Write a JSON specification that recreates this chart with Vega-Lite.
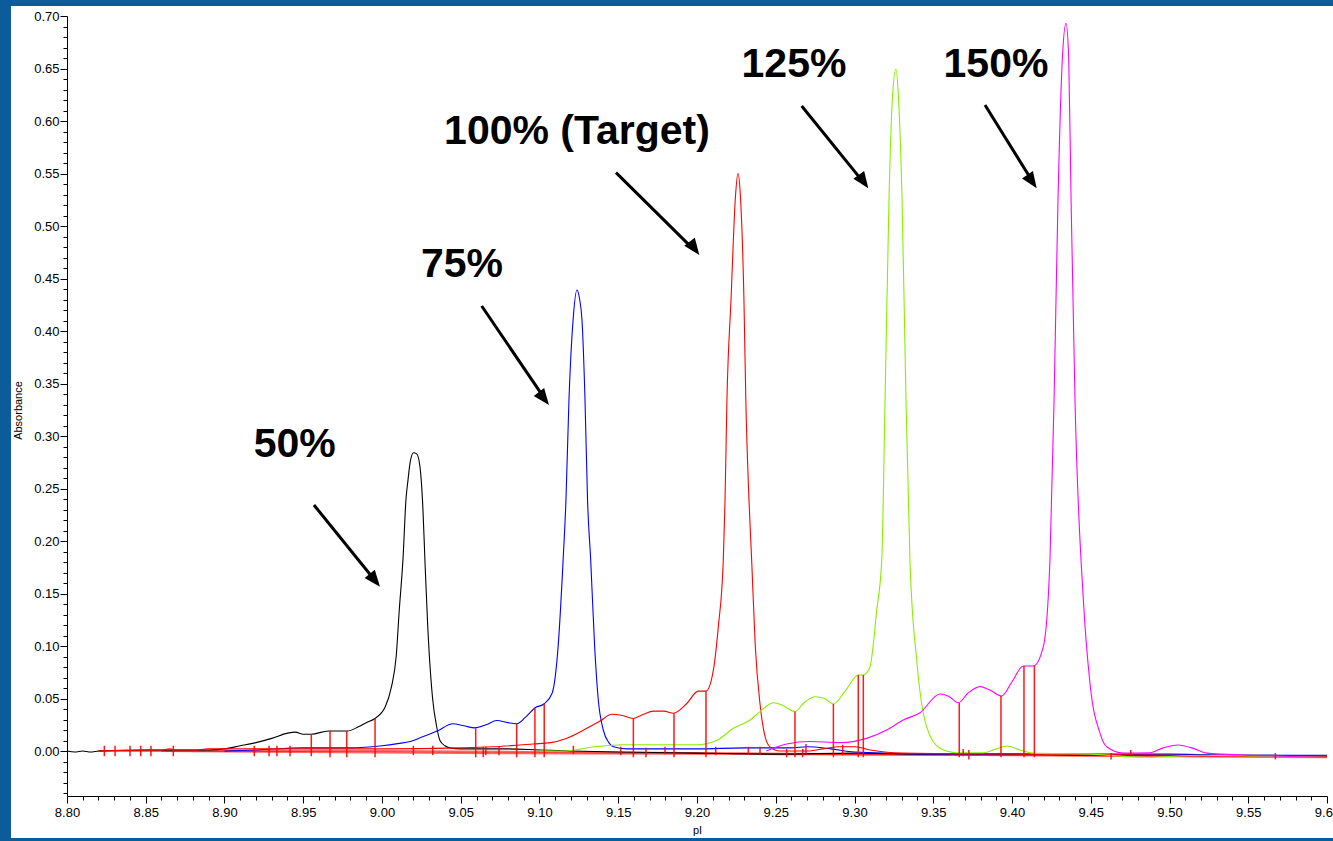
{
  "$schema": "https://vega.github.io/schema/vega-lite/v6.json",
  "width": 1260,
  "height": 780,
  "autosize": "none",
  "padding": {"left": 67, "top": 16, "right": 6, "bottom": 45},
  "background": "#0c5c9c",
  "config": {
    "view": {"stroke": null},
    "font": "Liberation Sans"
  },
  "resolve": {"axis": {"x": "independent", "y": "independent"}},
  "datasets": {
    "curves": [
      {"s": "50%", "x": 8.800, "y": 0.000}, {"s": "50%", "x": 8.805, "y": -0.001}, {"s": "50%", "x": 8.810, "y": 0.000}, {"s": "50%", "x": 8.815, "y": -0.001}, {"s": "50%", "x": 8.820, "y": 0.000}, {"s": "50%", "x": 8.850, "y": 0.001}, {"s": "50%", "x": 8.870, "y": 0.001}, {"s": "50%", "x": 8.890, "y": 0.001}, {"s": "50%", "x": 8.900, "y": 0.002}, {"s": "50%", "x": 8.910, "y": 0.005}, {"s": "50%", "x": 8.920, "y": 0.008}, {"s": "50%", "x": 8.930, "y": 0.012}, {"s": "50%", "x": 8.940, "y": 0.017}, {"s": "50%", "x": 8.945, "y": 0.018}, {"s": "50%", "x": 8.950, "y": 0.016}, {"s": "50%", "x": 8.955, "y": 0.016}, {"s": "50%", "x": 8.966, "y": 0.019}, {"s": "50%", "x": 8.978, "y": 0.019}, {"s": "50%", "x": 8.985, "y": 0.023}, {"s": "50%", "x": 8.990, "y": 0.027}, {"s": "50%", "x": 8.9956, "y": 0.031}, {"s": "50%", "x": 9.000, "y": 0.037}, {"s": "50%", "x": 9.002, "y": 0.042}, {"s": "50%", "x": 9.006, "y": 0.061}, {"s": "50%", "x": 9.009, "y": 0.090}, {"s": "50%", "x": 9.011, "y": 0.135}, {"s": "50%", "x": 9.0133, "y": 0.182}, {"s": "50%", "x": 9.0152, "y": 0.239}, {"s": "50%", "x": 9.0165, "y": 0.258}, {"s": "50%", "x": 9.018, "y": 0.276}, {"s": "50%", "x": 9.020, "y": 0.284}, {"s": "50%", "x": 9.022, "y": 0.283}, {"s": "50%", "x": 9.024, "y": 0.272}, {"s": "50%", "x": 9.026, "y": 0.230}, {"s": "50%", "x": 9.0273, "y": 0.180}, {"s": "50%", "x": 9.029, "y": 0.120}, {"s": "50%", "x": 9.0322, "y": 0.049}, {"s": "50%", "x": 9.0345, "y": 0.025}, {"s": "50%", "x": 9.0368, "y": 0.010}, {"s": "50%", "x": 9.040, "y": 0.005}, {"s": "50%", "x": 9.043, "y": 0.003}, {"s": "50%", "x": 9.050, "y": 0.002}, {"s": "50%", "x": 9.080, "y": 0.002}, {"s": "50%", "x": 9.100, "y": 0.001}, {"s": "50%", "x": 9.120, "y": 0.000}, {"s": "50%", "x": 9.150, "y": -0.001}, {"s": "50%", "x": 9.200, "y": -0.002}, {"s": "50%", "x": 9.250, "y": -0.003}, {"s": "50%", "x": 9.300, "y": -0.002}, {"s": "50%", "x": 9.350, "y": -0.003}, {"s": "50%", "x": 9.400, "y": -0.003}, {"s": "50%", "x": 9.450, "y": -0.004}, {"s": "50%", "x": 9.500, "y": -0.004}, {"s": "50%", "x": 9.550, "y": -0.004}, {"s": "50%", "x": 9.600, "y": -0.005},

      {"s": "75%", "x": 8.900, "y": 0.000}, {"s": "75%", "x": 8.920, "y": 0.001}, {"s": "75%", "x": 8.950, "y": 0.003}, {"s": "75%", "x": 8.980, "y": 0.003}, {"s": "75%", "x": 9.000, "y": 0.005}, {"s": "75%", "x": 9.010, "y": 0.007}, {"s": "75%", "x": 9.018, "y": 0.009}, {"s": "75%", "x": 9.025, "y": 0.013}, {"s": "75%", "x": 9.035, "y": 0.019}, {"s": "75%", "x": 9.045, "y": 0.026}, {"s": "75%", "x": 9.052, "y": 0.024}, {"s": "75%", "x": 9.059, "y": 0.022}, {"s": "75%", "x": 9.066, "y": 0.025}, {"s": "75%", "x": 9.073, "y": 0.029}, {"s": "75%", "x": 9.080, "y": 0.027}, {"s": "75%", "x": 9.0855, "y": 0.026}, {"s": "75%", "x": 9.091, "y": 0.032}, {"s": "75%", "x": 9.097, "y": 0.041}, {"s": "75%", "x": 9.103, "y": 0.045}, {"s": "75%", "x": 9.108, "y": 0.055}, {"s": "75%", "x": 9.112, "y": 0.103}, {"s": "75%", "x": 9.115, "y": 0.182}, {"s": "75%", "x": 9.1168, "y": 0.239}, {"s": "75%", "x": 9.1187, "y": 0.334}, {"s": "75%", "x": 9.1213, "y": 0.410}, {"s": "75%", "x": 9.1238, "y": 0.439}, {"s": "75%", "x": 9.1255, "y": 0.430}, {"s": "75%", "x": 9.127, "y": 0.410}, {"s": "75%", "x": 9.1289, "y": 0.334}, {"s": "75%", "x": 9.1305, "y": 0.239}, {"s": "75%", "x": 9.1325, "y": 0.182}, {"s": "75%", "x": 9.135, "y": 0.100}, {"s": "75%", "x": 9.1373, "y": 0.049}, {"s": "75%", "x": 9.1405, "y": 0.020}, {"s": "75%", "x": 9.144, "y": 0.008}, {"s": "75%", "x": 9.147, "y": 0.004}, {"s": "75%", "x": 9.155, "y": 0.002}, {"s": "75%", "x": 9.200, "y": 0.002}, {"s": "75%", "x": 9.230, "y": 0.003}, {"s": "75%", "x": 9.260, "y": 0.003}, {"s": "75%", "x": 9.270, "y": 0.004}, {"s": "75%", "x": 9.285, "y": 0.002}, {"s": "75%", "x": 9.300, "y": -0.001}, {"s": "75%", "x": 9.350, "y": -0.003}, {"s": "75%", "x": 9.450, "y": -0.003}, {"s": "75%", "x": 9.500, "y": -0.003}, {"s": "75%", "x": 9.550, "y": -0.004}, {"s": "75%", "x": 9.600, "y": -0.004},

      {"s": "100%", "x": 8.820, "y": 0.000}, {"s": "100%", "x": 8.850, "y": 0.001}, {"s": "100%", "x": 8.860, "y": 0.001}, {"s": "100%", "x": 8.865, "y": 0.002}, {"s": "100%", "x": 8.870, "y": 0.001}, {"s": "100%", "x": 8.880, "y": 0.001}, {"s": "100%", "x": 8.890, "y": 0.002}, {"s": "100%", "x": 8.950, "y": 0.002}, {"s": "100%", "x": 9.000, "y": 0.002}, {"s": "100%", "x": 9.050, "y": 0.003}, {"s": "100%", "x": 9.070, "y": 0.004}, {"s": "100%", "x": 9.096, "y": 0.0067}, {"s": "100%", "x": 9.107, "y": 0.008}, {"s": "100%", "x": 9.117, "y": 0.012}, {"s": "100%", "x": 9.128, "y": 0.020}, {"s": "100%", "x": 9.138, "y": 0.028}, {"s": "100%", "x": 9.146, "y": 0.035}, {"s": "100%", "x": 9.152, "y": 0.034}, {"s": "100%", "x": 9.1596, "y": 0.031}, {"s": "100%", "x": 9.166, "y": 0.035}, {"s": "100%", "x": 9.1723, "y": 0.038}, {"s": "100%", "x": 9.179, "y": 0.038}, {"s": "100%", "x": 9.185, "y": 0.036}, {"s": "100%", "x": 9.1934, "y": 0.045}, {"s": "100%", "x": 9.2008, "y": 0.057}, {"s": "100%", "x": 9.2057, "y": 0.057}, {"s": "100%", "x": 9.2104, "y": 0.077}, {"s": "100%", "x": 9.2135, "y": 0.118}, {"s": "100%", "x": 9.2167, "y": 0.182}, {"s": "100%", "x": 9.2178, "y": 0.239}, {"s": "100%", "x": 9.219, "y": 0.334}, {"s": "100%", "x": 9.2216, "y": 0.430}, {"s": "100%", "x": 9.2245, "y": 0.530}, {"s": "100%", "x": 9.226, "y": 0.550}, {"s": "100%", "x": 9.2275, "y": 0.530}, {"s": "100%", "x": 9.2298, "y": 0.430}, {"s": "100%", "x": 9.231, "y": 0.334}, {"s": "100%", "x": 9.233, "y": 0.239}, {"s": "100%", "x": 9.2347, "y": 0.182}, {"s": "100%", "x": 9.237, "y": 0.100}, {"s": "100%", "x": 9.240, "y": 0.045}, {"s": "100%", "x": 9.243, "y": 0.015}, {"s": "100%", "x": 9.2463, "y": 0.004}, {"s": "100%", "x": 9.2527, "y": 0.000}, {"s": "100%", "x": 9.270, "y": 0.000}, {"s": "100%", "x": 9.280, "y": 0.002}, {"s": "100%", "x": 9.290, "y": 0.004}, {"s": "100%", "x": 9.300, "y": 0.004}, {"s": "100%", "x": 9.310, "y": 0.001}, {"s": "100%", "x": 9.330, "y": -0.002}, {"s": "100%", "x": 9.400, "y": -0.003}, {"s": "100%", "x": 9.500, "y": -0.004}, {"s": "100%", "x": 9.600, "y": -0.005},

      {"s": "125%", "x": 9.100, "y": 0.000}, {"s": "125%", "x": 9.115, "y": 0.000}, {"s": "125%", "x": 9.135, "y": 0.004}, {"s": "125%", "x": 9.153, "y": 0.006}, {"s": "125%", "x": 9.200, "y": 0.006}, {"s": "125%", "x": 9.2125, "y": 0.010}, {"s": "125%", "x": 9.2231, "y": 0.0216}, {"s": "125%", "x": 9.2337, "y": 0.0295}, {"s": "125%", "x": 9.240, "y": 0.0375}, {"s": "125%", "x": 9.2485, "y": 0.046}, {"s": "125%", "x": 9.255, "y": 0.043}, {"s": "125%", "x": 9.2622, "y": 0.0375}, {"s": "125%", "x": 9.268, "y": 0.046}, {"s": "125%", "x": 9.2749, "y": 0.0517}, {"s": "125%", "x": 9.281, "y": 0.050}, {"s": "125%", "x": 9.2866, "y": 0.0448}, {"s": "125%", "x": 9.2945, "y": 0.058}, {"s": "125%", "x": 9.3024, "y": 0.0724}, {"s": "125%", "x": 9.3056, "y": 0.0724}, {"s": "125%", "x": 9.3098, "y": 0.080}, {"s": "125%", "x": 9.3141, "y": 0.134}, {"s": "125%", "x": 9.3173, "y": 0.182}, {"s": "125%", "x": 9.3194, "y": 0.334}, {"s": "125%", "x": 9.3219, "y": 0.525}, {"s": "125%", "x": 9.324, "y": 0.620}, {"s": "125%", "x": 9.3263, "y": 0.6495}, {"s": "125%", "x": 9.328, "y": 0.620}, {"s": "125%", "x": 9.3302, "y": 0.525}, {"s": "125%", "x": 9.3327, "y": 0.334}, {"s": "125%", "x": 9.3352, "y": 0.182}, {"s": "125%", "x": 9.3395, "y": 0.0867}, {"s": "125%", "x": 9.3458, "y": 0.023}, {"s": "125%", "x": 9.3543, "y": 0.0026}, {"s": "125%", "x": 9.3649, "y": -0.0016}, {"s": "125%", "x": 9.3818, "y": -0.0016}, {"s": "125%", "x": 9.390, "y": 0.002}, {"s": "125%", "x": 9.3966, "y": 0.0048}, {"s": "125%", "x": 9.405, "y": 0.001}, {"s": "125%", "x": 9.4133, "y": -0.002}, {"s": "125%", "x": 9.450, "y": -0.003}, {"s": "125%", "x": 9.4855, "y": -0.006}, {"s": "125%", "x": 9.520, "y": -0.004}, {"s": "125%", "x": 9.560, "y": -0.005}, {"s": "125%", "x": 9.600, "y": -0.006},

      {"s": "150%", "x": 9.244, "y": 0.000}, {"s": "150%", "x": 9.2569, "y": 0.0067}, {"s": "150%", "x": 9.2717, "y": 0.009}, {"s": "150%", "x": 9.2908, "y": 0.008}, {"s": "150%", "x": 9.3077, "y": 0.012}, {"s": "150%", "x": 9.3204, "y": 0.020}, {"s": "150%", "x": 9.331, "y": 0.0295}, {"s": "150%", "x": 9.3416, "y": 0.0365}, {"s": "150%", "x": 9.3543, "y": 0.0543}, {"s": "150%", "x": 9.360, "y": 0.052}, {"s": "150%", "x": 9.3659, "y": 0.046}, {"s": "150%", "x": 9.372, "y": 0.055}, {"s": "150%", "x": 9.3797, "y": 0.0613}, {"s": "150%", "x": 9.386, "y": 0.058}, {"s": "150%", "x": 9.3934, "y": 0.0524}, {"s": "150%", "x": 9.400, "y": 0.066}, {"s": "150%", "x": 9.4072, "y": 0.081}, {"s": "150%", "x": 9.4135, "y": 0.081}, {"s": "150%", "x": 9.4199, "y": 0.0994}, {"s": "150%", "x": 9.4241, "y": 0.182}, {"s": "150%", "x": 9.4267, "y": 0.334}, {"s": "150%", "x": 9.4292, "y": 0.525}, {"s": "150%", "x": 9.432, "y": 0.660}, {"s": "150%", "x": 9.4343, "y": 0.693}, {"s": "150%", "x": 9.436, "y": 0.660}, {"s": "150%", "x": 9.4375, "y": 0.525}, {"s": "150%", "x": 9.440, "y": 0.334}, {"s": "150%", "x": 9.4453, "y": 0.144}, {"s": "150%", "x": 9.4495, "y": 0.0645}, {"s": "150%", "x": 9.4559, "y": 0.0168}, {"s": "150%", "x": 9.4601, "y": 0.004}, {"s": "150%", "x": 9.4707, "y": -0.002}, {"s": "150%", "x": 9.4876, "y": -0.0016}, {"s": "150%", "x": 9.496, "y": 0.003}, {"s": "150%", "x": 9.5054, "y": 0.0057}, {"s": "150%", "x": 9.516, "y": 0.002}, {"s": "150%", "x": 9.5236, "y": -0.002}, {"s": "150%", "x": 9.550, "y": -0.004}, {"s": "150%", "x": 9.600, "y": -0.006}
    ],
    "baselines": [
      {"seg": "a", "x": 8.820, "y": 0.000}, {"seg": "a", "x": 9.000, "y": 0.000}, {"seg": "a", "x": 9.300, "y": -0.003}, {"seg": "a", "x": 9.600, "y": -0.006},
      {"seg": "b", "x": 8.860, "y": 0.000}, {"seg": "b", "x": 9.050, "y": -0.002}, {"seg": "b", "x": 9.250, "y": -0.003}, {"seg": "b", "x": 9.600, "y": -0.005}
    ],
    "markers": [
      {"x": 8.8237, "top": 0.005, "bottom": -0.005}, {"x": 8.8305, "top": 0.005, "bottom": -0.005}, {"x": 8.8400, "top": 0.005, "bottom": -0.005}, {"x": 8.8468, "top": 0.005, "bottom": -0.005}, {"x": 8.8533, "top": 0.005, "bottom": -0.005}, {"x": 8.8675, "top": 0.005, "bottom": -0.005},
      {"x": 8.9189, "top": 0.005, "bottom": -0.005}, {"x": 8.9283, "top": 0.005, "bottom": -0.005}, {"x": 8.9333, "top": 0.005, "bottom": -0.005}, {"x": 8.9416, "top": 0.005, "bottom": -0.005},
      {"x": 8.9551, "top": 0.016, "bottom": -0.005}, {"x": 8.9670, "top": 0.019, "bottom": -0.006}, {"x": 8.9776, "top": 0.019, "bottom": -0.006}, {"x": 8.9956, "top": 0.031, "bottom": -0.006},
      {"x": 9.0199, "top": 0.005, "bottom": -0.004}, {"x": 9.0322, "top": 0.005, "bottom": -0.004}, {"x": 9.0595, "top": 0.0216, "bottom": -0.006}, {"x": 9.0643, "top": 0.004, "bottom": -0.006}, {"x": 9.0659, "top": 0.004, "bottom": -0.004}, {"x": 9.0743, "top": 0.004, "bottom": -0.004},
      {"x": 9.0855, "top": 0.026, "bottom": -0.006}, {"x": 9.0971, "top": 0.0406, "bottom": -0.006}, {"x": 9.1030, "top": 0.045, "bottom": -0.006}, {"x": 9.1215, "top": 0.005, "bottom": -0.003},
      {"x": 9.1516, "top": 0.004, "bottom": -0.004}, {"x": 9.1596, "top": 0.031, "bottom": -0.006}, {"x": 9.1676, "top": 0.003, "bottom": -0.006}, {"x": 9.1797, "top": 0.004, "bottom": -0.003}, {"x": 9.1854, "top": 0.036, "bottom": -0.006},
      {"x": 9.2057, "top": 0.057, "bottom": -0.006}, {"x": 9.2119, "top": 0.004, "bottom": -0.004}, {"x": 9.2326, "top": 0.004, "bottom": -0.003}, {"x": 9.2400, "top": 0.004, "bottom": -0.003},
      {"x": 9.2569, "top": 0.002, "bottom": -0.006}, {"x": 9.2622, "top": 0.0375, "bottom": -0.006}, {"x": 9.2671, "top": 0.002, "bottom": -0.006}, {"x": 9.2692, "top": 0.0067, "bottom": -0.004},
      {"x": 9.2866, "top": 0.0448, "bottom": -0.006}, {"x": 9.2925, "top": 0.006, "bottom": -0.004}, {"x": 9.3024, "top": 0.0724, "bottom": -0.006}, {"x": 9.3056, "top": 0.0724, "bottom": -0.006},
      {"x": 9.3665, "top": 0.046, "bottom": -0.006}, {"x": 9.3690, "top": 0.002, "bottom": -0.005}, {"x": 9.3726, "top": 0.001, "bottom": -0.008}, {"x": 9.3930, "top": 0.0524, "bottom": -0.006},
      {"x": 9.4076, "top": 0.081, "bottom": -0.006}, {"x": 9.4142, "top": 0.081, "bottom": -0.006}, {"x": 9.4629, "top": -0.002, "bottom": -0.008}, {"x": 9.4754, "top": 0.001, "bottom": -0.005}, {"x": 9.5672, "top": -0.002, "bottom": -0.008}
    ],
    "arrows": [
      {"label": "50%", "x": 8.9568, "y": 0.2343, "x2": 8.99556, "y2": 0.1624, "tx": 8.99873, "ty": 0.1565},
      {"label": "75%", "x": 9.0633, "y": 0.4238, "x2": 9.10317, "y2": 0.3358, "tx": 9.10603, "ty": 0.3295},
      {"label": "100% (Target)", "x": 9.14857, "y": 0.5508, "x2": 9.19784, "y2": 0.4777, "tx": 9.20146, "ty": 0.4724},
      {"label": "125%", "x": 9.26648, "y": 0.6143, "x2": 9.30559, "y2": 0.5418, "tx": 9.30876, "ty": 0.5359},
      {"label": "150%", "x": 9.38286, "y": 0.6152, "x2": 9.41302, "y2": 0.5424, "tx": 9.41568, "ty": 0.5359}
    ],
    "labels": [
      {"label": "50%", "x": 8.94457, "y": 0.2803},
      {"label": "75%", "x": 9.05079, "y": 0.4514},
      {"label": "100% (Target)", "x": 9.12381, "y": 0.5781},
      {"label": "125%", "x": 9.26159, "y": 0.6419},
      {"label": "150%", "x": 9.38984, "y": 0.6419}
    ]
  },
  "layer": [
    {
      "data": {"values": [{}]},
      "mark": {"type": "rect", "color": "white"},
      "encoding": {
        "x": {"datum": 8.76444, "type": "quantitative", "axis": null},
        "x2": {"datum": 9.61},
        "y": {"datum": 0.70952, "type": "quantitative", "axis": null},
        "y2": {"datum": -0.08286}
      }
    },
    {
      "data": {"name": "baselines"},
      "mark": {"type": "line", "color": "#ff0000", "strokeWidth": 2, "opacity": 0.6},
      "encoding": {
        "x": {
          "field": "x", "type": "quantitative",
          "axis": {
            "orient": "bottom", "zindex": 2, "title": null, "labels": false, "domain": false, "grid": false,
            "tickSize": 4, "tickColor": "black",
            "values": [8.81, 8.82, 8.83, 8.84, 8.86, 8.87, 8.88, 8.89, 8.91, 8.92, 8.93, 8.94, 8.96, 8.97, 8.98, 8.99, 9.01, 9.02, 9.03, 9.04, 9.06, 9.07, 9.08, 9.09, 9.11, 9.12, 9.13, 9.14, 9.16, 9.17, 9.18, 9.19, 9.21, 9.22, 9.23, 9.24, 9.26, 9.27, 9.28, 9.29, 9.31, 9.32, 9.33, 9.34, 9.36, 9.37, 9.38, 9.39, 9.41, 9.42, 9.43, 9.44, 9.46, 9.47, 9.48, 9.49, 9.51, 9.52, 9.53, 9.54, 9.56, 9.57, 9.58, 9.59]
          }
        },
        "y": {
          "field": "y", "type": "quantitative",
          "axis": {
            "orient": "left", "zindex": 2, "title": null, "labels": false, "domain": false, "grid": false,
            "tickSize": 4, "tickColor": "black",
            "values": [-0.04, -0.03, -0.02, -0.01, 0.01, 0.02, 0.03, 0.04, 0.06, 0.07, 0.08, 0.09, 0.11, 0.12, 0.13, 0.14, 0.16, 0.17, 0.18, 0.19, 0.21, 0.22, 0.23, 0.24, 0.26, 0.27, 0.28, 0.29, 0.31, 0.32, 0.33, 0.34, 0.36, 0.37, 0.38, 0.39, 0.41, 0.42, 0.43, 0.44, 0.46, 0.47, 0.48, 0.49, 0.51, 0.52, 0.53, 0.54, 0.56, 0.57, 0.58, 0.59, 0.61, 0.62, 0.63, 0.64, 0.66, 0.67, 0.68, 0.69]
          }
        },
        "detail": {"field": "seg", "type": "nominal"}
      }
    },
    {
      "data": {"name": "curves"},
      "mark": {"type": "line", "strokeWidth": 1.1, "interpolate": "monotone"},
      "encoding": {
        "x": {
          "field": "x", "type": "quantitative",
          "scale": {"domain": [8.8, 9.6], "nice": false, "zero": false},
          "axis": {
            "orient": "bottom", "title": "pI", "zindex": 3,
            "values": [8.80, 8.85, 8.90, 8.95, 9.00, 9.05, 9.10, 9.15, 9.20, 9.25, 9.30, 9.35, 9.40, 9.45, 9.50, 9.55, 9.60],
            "format": ".2f", "tickSize": 7,
            "labelOverlap": false, "labelFlush": false, "labelBound": false,
            "grid": false, "domainColor": "black", "tickColor": "black", "labelColor": "black",
            "labelFontSize": 13, "labelPadding": 3, "labelFont": "Liberation Sans",
            "titleFontSize": 11, "titleFontWeight": "normal", "titleColor": "black", "titleFont": "Liberation Sans", "titlePadding": 5
          }
        },
        "y": {
          "field": "y", "type": "quantitative",
          "scale": {"domain": [-0.042857, 0.7], "nice": false, "zero": false},
          "axis": {
            "orient": "left", "title": "Absorbance", "zindex": 3,
            "values": [0, 0.05, 0.10, 0.15, 0.20, 0.25, 0.30, 0.35, 0.40, 0.45, 0.50, 0.55, 0.60, 0.65, 0.70],
            "format": ".2f", "tickSize": 7,
            "labelOverlap": false, "labelFlush": false, "labelBound": false,
            "grid": false, "domainColor": "black", "tickColor": "black", "labelColor": "black",
            "labelFontSize": 13, "labelPadding": 1, "labelFont": "Liberation Sans",
            "titleFontSize": 11, "titleFontWeight": "normal", "titleColor": "black", "titleFont": "Liberation Sans",
            "titleX": -49, "titleY": 394, "titleAngle": -90, "titleBaseline": "middle", "titleAlign": "center"
          }
        },
        "color": {
          "field": "s", "type": "nominal", "legend": null,
          "scale": {"domain": ["50%", "75%", "100%", "125%", "150%"], "range": ["#000000", "#0000ff", "#ff0000", "#88ee00", "#ff00ff"]}
        },
        "order": {"field": "x", "type": "quantitative"}
      }
    },
    {
      "data": {"name": "markers"},
      "mark": {"type": "rule", "color": "#ff0000", "strokeWidth": 1.5, "opacity": 0.9},
      "encoding": {
        "x": {"field": "x", "type": "quantitative", "axis": null},
        "y": {"field": "top", "type": "quantitative", "axis": null},
        "y2": {"field": "bottom"}
      }
    },
    {
      "data": {"name": "arrows"},
      "mark": {"type": "rule", "color": "black", "strokeWidth": 3},
      "encoding": {
        "x": {"field": "x", "type": "quantitative", "axis": null},
        "y": {"field": "y", "type": "quantitative", "axis": null},
        "x2": {"field": "x2"},
        "y2": {"field": "y2"}
      }
    },
    {
      "data": {"name": "arrows"},
      "mark": {"type": "point", "shape": "M0,0L-2,-0.8L-2,0.8Z", "filled": true, "color": "black", "opacity": 1, "size": 270, "strokeWidth": 0},
      "encoding": {
        "x": {"field": "tx", "type": "quantitative", "axis": null},
        "y": {"field": "ty", "type": "quantitative", "axis": null},
        "angle": {
          "field": "label", "type": "nominal", "legend": null,
          "scale": {"domain": ["50%", "75%", "100% (Target)", "125%", "150%"], "range": [51.1, 55.8, 44.7, 51.0, 58.2]}
        }
      }
    },
    {
      "data": {"name": "labels"},
      "mark": {"type": "text", "font": "Liberation Sans", "fontSize": 41, "fontWeight": "bold", "align": "center", "baseline": "alphabetic", "color": "black"},
      "encoding": {
        "x": {"field": "x", "type": "quantitative", "axis": null},
        "y": {"field": "y", "type": "quantitative", "axis": null},
        "text": {"field": "label", "type": "nominal"}
      }
    }
  ]
}
